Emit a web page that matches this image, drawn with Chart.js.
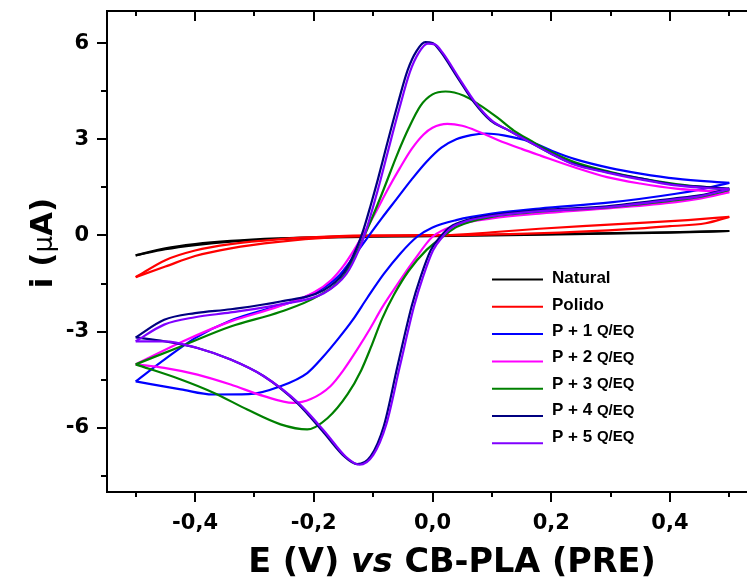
<!DOCTYPE html>
<html><head><meta charset="utf-8">
<script src="https://cdn.jsdelivr.net/npm/chart.js@4"></script>
<style>html,body{margin:0;padding:0;overflow:hidden;background:#fff}canvas{display:block}</style>
</head><body>
<canvas id="c" width="800" height="578"></canvas>
<script>
// ---- data ----
const seriesLabels = ['Natural', 'Polido', 'P + 1', 'P + 2', 'P + 3', 'P + 4', 'P + 5'];
const seriesSuffix = ['', '', 'Q/EQ', 'Q/EQ', 'Q/EQ', 'Q/EQ', 'Q/EQ'];
const xTickValues = [-0.4, -0.2, 0, 0.2, 0.4];
const xMinorValues = [-0.5, -0.3, -0.1, 0.1, 0.3, 0.5];
const yTickValues = [-6, -3, 0, 3, 6];
const yMinorValues = [-7.5, -4.5, -1.5, 1.5, 4.5];

// [E (V), i (uA)] forward (positive-going) and reverse scans
const naturalFwd = [[-0.5,-0.62],[-0.45,-0.4],[-0.4,-0.27],[-0.34,-0.17],[-0.26,-0.09],[-0.17,-0.04],[-0.1,-0.02],[0,0.0],[0.1,0.02],[0.24,0.06],[0.4,0.1],[0.5,0.14]];
const naturalRev = [[0.5,0.14],[0.4,0.09],[0.24,0.04],[0.1,0.0],[0,-0.02],[-0.1,-0.04],[-0.17,-0.06],[-0.26,-0.11],[-0.34,-0.19],[-0.4,-0.3],[-0.45,-0.43],[-0.5,-0.62]];

const polidoFwd = [[-0.5,-1.3],[-0.45,-0.77],[-0.4,-0.47],[-0.34,-0.27],[-0.26,-0.12],[-0.17,-0.03],[-0.1,0.0],[0.02,0.01],[0.1,0.1],[0.18,0.21],[0.26,0.3],[0.35,0.39],[0.43,0.48],[0.5,0.58]];
const polidoRev = [[0.5,0.58],[0.46,0.38],[0.4,0.29],[0.35,0.22],[0.24,0.11],[0.13,0.04],[0.04,0.01],[-0.1,-0.02],[-0.17,-0.06],[-0.26,-0.2],[-0.34,-0.4],[-0.4,-0.64],[-0.45,-0.97],[-0.5,-1.3]];

const p1Fwd = [[-0.5,-4.55],[-0.45,-3.85],[-0.4,-3.2],[-0.34,-2.65],[-0.28,-2.3],[-0.24,-2.1],[-0.19,-1.7],[-0.16,-1.3],[-0.135,-0.72],[-0.11,-0.08],[-0.085,0.55],[-0.06,1.15],[-0.035,1.75],[-0.01,2.3],[0.015,2.74],[0.04,3.0],[0.065,3.13],[0.09,3.18],[0.12,3.12],[0.165,2.92],[0.2,2.65],[0.24,2.38],[0.3,2.1],[0.35,1.93],[0.41,1.77],[0.5,1.64]];
const p1Rev = [[0.5,1.64],[0.45,1.43],[0.41,1.3],[0.3,1.03],[0.18,0.84],[0.1,0.68],[0.04,0.48],[0.0,0.25],[-0.026,-0.04],[-0.054,-0.56],[-0.082,-1.2],[-0.11,-1.95],[-0.135,-2.65],[-0.16,-3.25],[-0.185,-3.8],[-0.211,-4.29],[-0.256,-4.7],[-0.31,-4.95],[-0.37,-4.96],[-0.424,-4.8],[-0.5,-4.55]];

const p2Fwd = [[-0.5,-4.02],[-0.42,-3.3],[-0.34,-2.68],[-0.26,-2.22],[-0.2,-1.78],[-0.17,-1.38],[-0.15,-0.95],[-0.132,-0.45],[-0.113,0.15],[-0.095,0.75],[-0.075,1.45],[-0.055,2.1],[-0.035,2.7],[-0.015,3.15],[0.0,3.36],[0.025,3.48],[0.05,3.42],[0.08,3.22],[0.11,2.98],[0.15,2.7],[0.182,2.49],[0.24,2.12],[0.294,1.82],[0.35,1.62],[0.41,1.46],[0.5,1.35]];
const p2Rev = [[0.5,1.35],[0.45,1.15],[0.41,1.04],[0.3,0.85],[0.18,0.68],[0.1,0.53],[0.04,0.32],[0.0,-0.04],[-0.03,-0.75],[-0.06,-1.55],[-0.085,-2.25],[-0.105,-2.9],[-0.127,-3.56],[-0.15,-4.2],[-0.172,-4.7],[-0.205,-5.1],[-0.235,-5.22],[-0.284,-5.01],[-0.34,-4.65],[-0.396,-4.34],[-0.452,-4.13],[-0.5,-4.02]];

const p3Fwd = [[-0.5,-4.02],[-0.424,-3.46],[-0.34,-2.84],[-0.256,-2.38],[-0.194,-1.9],[-0.149,-1.25],[-0.127,-0.5],[-0.104,0.45],[-0.082,1.45],[-0.06,2.5],[-0.04,3.35],[-0.02,4.05],[0.0,4.4],[0.022,4.49],[0.053,4.36],[0.081,4.05],[0.109,3.68],[0.137,3.27],[0.165,2.96],[0.2,2.6],[0.24,2.28],[0.3,1.98],[0.35,1.78],[0.41,1.6],[0.5,1.42]];
const p3Rev = [[0.5,1.42],[0.45,1.2],[0.41,1.1],[0.3,0.88],[0.18,0.74],[0.1,0.58],[0.041,0.27],[0.02,0.0],[-0.01,-0.45],[-0.04,-1.1],[-0.065,-1.85],[-0.085,-2.6],[-0.104,-3.5],[-0.12,-4.2],[-0.143,-4.95],[-0.177,-5.7],[-0.211,-6.05],[-0.256,-5.89],[-0.312,-5.43],[-0.368,-4.91],[-0.424,-4.49],[-0.5,-4.02]];

const p4Fwd = [[-0.5,-3.18],[-0.452,-2.63],[-0.4,-2.42],[-0.34,-2.3],[-0.256,-2.06],[-0.183,-1.7],[-0.149,-1.15],[-0.128,-0.4],[-0.116,0.2],[-0.104,0.95],[-0.092,1.75],[-0.078,2.75],[-0.06,4.0],[-0.042,5.15],[-0.027,5.75],[-0.012,6.03],[0.0,6.0],[0.013,5.75],[0.042,4.93],[0.07,4.15],[0.098,3.58],[0.126,3.3],[0.165,2.9],[0.2,2.55],[0.237,2.24],[0.294,1.98],[0.35,1.78],[0.406,1.59],[0.462,1.51],[0.5,1.46]];
const p4Rev = [[0.5,1.46],[0.45,1.25],[0.406,1.15],[0.294,0.91],[0.182,0.79],[0.098,0.63],[0.058,0.48],[0.03,0.27],[0.013,-0.04],[-0.003,-0.46],[-0.02,-1.29],[-0.035,-2.2],[-0.059,-4.08],[-0.082,-5.94],[-0.104,-6.88],[-0.127,-7.13],[-0.149,-6.88],[-0.183,-6.15],[-0.228,-5.22],[-0.284,-4.39],[-0.34,-3.87],[-0.396,-3.51],[-0.452,-3.3],[-0.5,-3.18]];

const p5Fwd = [[-0.5,-3.3],[-0.452,-2.78],[-0.4,-2.55],[-0.34,-2.4],[-0.256,-2.15],[-0.183,-1.8],[-0.145,-1.2],[-0.124,-0.45],[-0.112,0.15],[-0.1,0.9],[-0.088,1.7],[-0.074,2.7],[-0.056,3.95],[-0.038,5.1],[-0.023,5.7],[-0.008,5.98],[0.004,5.96],[0.017,5.7],[0.045,4.9],[0.072,4.15],[0.1,3.58],[0.126,3.3],[0.165,2.9],[0.2,2.55],[0.237,2.22],[0.294,1.96],[0.35,1.75],[0.406,1.57],[0.462,1.48],[0.5,1.44]];
const p5Rev = [[0.5,1.44],[0.45,1.22],[0.406,1.12],[0.294,0.88],[0.182,0.76],[0.098,0.6],[0.058,0.45],[0.034,0.27],[0.017,-0.04],[0.001,-0.46],[-0.016,-1.29],[-0.031,-2.2],[-0.055,-4.08],[-0.078,-5.9],[-0.1,-6.85],[-0.123,-7.15],[-0.146,-6.9],[-0.18,-6.15],[-0.226,-5.22],[-0.284,-4.39],[-0.34,-3.87],[-0.396,-3.51],[-0.452,-3.3],[-0.5,-3.3]];

// ---- styles ----
const seriesColors = ['#000000', '#ff0000', '#0000ff', '#ff00ff', '#008000', '#000080', '#8000ff'];
const seriesScans = [
  [naturalFwd, naturalRev], [polidoFwd, polidoRev], [p1Fwd, p1Rev], [p2Fwd, p2Rev],
  [p3Fwd, p3Rev], [p4Fwd, p4Rev], [p5Fwd, p5Rev]
];

const datasets = [];
for (let k = seriesScans.length - 1; k >= 0; k--) {   // last series on top
  seriesScans[k].forEach(scan => {
    datasets.push({
      label: seriesLabels[k],
      data: scan.map(p => ({x: p[0], y: p[1]})),
      borderColor: seriesColors[k],
      backgroundColor: seriesColors[k],
      borderWidth: 2.2,
      pointRadius: 0,
      showLine: true,
      cubicInterpolationMode: 'monotone',
      fill: false
    });
  });
}

const TICK_FONT = {family: 'DejaVu Sans', weight: 'bold', size: 21};

const decor = {
  id: 'decor',
  afterDraw(chart) {
    const {ctx, chartArea: a, scales: {x, y}} = chart;
    ctx.save();
    ctx.strokeStyle = '#000';
    ctx.lineWidth = 2;
    ctx.beginPath();
    ctx.moveTo(a.left + 1, a.top); ctx.lineTo(a.right, a.top);
    ctx.lineTo(a.right, a.bottom); ctx.lineTo(a.left + 1, a.bottom); ctx.closePath();
    ctx.stroke();
    const seg = (x1, y1, x2, y2) => { ctx.beginPath(); ctx.moveTo(x1, y1); ctx.lineTo(x2, y2); ctx.stroke(); };
    xTickValues.forEach(v => { const p = Math.round(x.getPixelForValue(v)); seg(p, a.bottom, p, a.bottom + 10); seg(p, a.top, p, a.top + 10); });
    xMinorValues.forEach(v => { const p = Math.round(x.getPixelForValue(v)); seg(p, a.bottom, p, a.bottom + 5); seg(p, a.top, p, a.top + 5); });
    yTickValues.forEach(v => { const p = Math.round(y.getPixelForValue(v)); seg(a.left - 9, p, a.left + 1, p); });
    yMinorValues.forEach(v => { const p = Math.round(y.getPixelForValue(v)); seg(a.left - 5, p, a.left + 1, p); });

    // legend
    ctx.fillStyle = '#000';
    ctx.textBaseline = 'middle';
    ctx.textAlign = 'left';
    for (let k = 0; k < seriesLabels.length; k++) {
      const ly = 279.5 + 27.3 * k;
      const ty = 278.5 + 26.4 * k;
      ctx.strokeStyle = seriesColors[k];
      ctx.lineWidth = 2;
      seg(492, ly, 543, ly);
      ctx.font = 'bold 17px "Liberation Sans"';
      ctx.fillText(seriesLabels[k], 552, ty);
      if (seriesSuffix[k]) {
        const w = ctx.measureText(seriesLabels[k] + ' ').width;
        ctx.font = 'bold 15px "Liberation Sans"';
        ctx.fillText(seriesSuffix[k], 552 + w, ty);
      }
    }

    // x title
    const xt = [
      ['E (V) ', 'bold 33.5px "DejaVu Sans"'],
      ['vs', 'italic bold 33.5px "DejaVu Sans"'],
      [' CB-PLA (PRE)', 'bold 33.5px "DejaVu Sans"']
    ];
    let tw = 0;
    xt.forEach(t => { ctx.font = t[1]; tw += ctx.measureText(t[0]).width; });
    let cx = 452 - tw / 2;
    ctx.textBaseline = 'alphabetic';
    xt.forEach(t => { ctx.font = t[1]; ctx.fillText(t[0], cx, 571.5); cx += ctx.measureText(t[0]).width; });

    // y title
    const yt = [
      ['i (', 'bold 31px "DejaVu Sans"'],
      ['\u03BC', '26px "DejaVu Sans"'],
      ['A)', 'bold 31px "DejaVu Sans"']
    ];
    tw = 0;
    yt.forEach(t => { ctx.font = t[1]; tw += ctx.measureText(t[0]).width; });
    ctx.translate(52, 243);
    ctx.rotate(-Math.PI / 2);
    cx = -tw / 2;
    yt.forEach(t => { ctx.font = t[1]; ctx.fillText(t[0], cx, 0); cx += ctx.measureText(t[0]).width; });
    ctx.restore();
  }
};

new Chart(document.getElementById('c'), {
  type: 'scatter',
  data: {datasets},
  options: {
    responsive: false,
    animation: false,
    devicePixelRatio: 1,
    layout: {padding: {top: 11, right: 41, left: 0, bottom: 0}},
    plugins: {legend: {display: false}, tooltip: {enabled: false}},
    scales: {
      x: {
        type: 'linear', min: -0.55, max: 0.55,
        grid: {display: false, drawTicks: false},
        border: {display: false},
        afterFit: s => { s.height = 86; s.paddingLeft = 0; s.paddingRight = 0; s.paddingTop = 0; s.paddingBottom = 0; },
        afterBuildTicks: s => { s.ticks = xTickValues.map(v => ({value: v})); },
        ticks: {
          font: TICK_FONT, color: '#000', padding: 19, maxRotation: 0, autoSkip: false,
          callback: v => v.toFixed(1).replace('.', ',')
        }
      },
      y: {
        type: 'linear', min: -8, max: 7,
        grid: {display: false, drawTicks: false},
        border: {display: false},
        afterFit: s => { s.width = 106; s.paddingLeft = 0; s.paddingRight = 0; s.paddingTop = 0; s.paddingBottom = 0; },
        afterBuildTicks: s => { s.ticks = yTickValues.map(v => ({value: v})); },
        ticks: {font: TICK_FONT, color: '#000', padding: 17, callback: v => String(v)}
      }
    }
  },
  plugins: [decor]
});
</script>
</body></html>
